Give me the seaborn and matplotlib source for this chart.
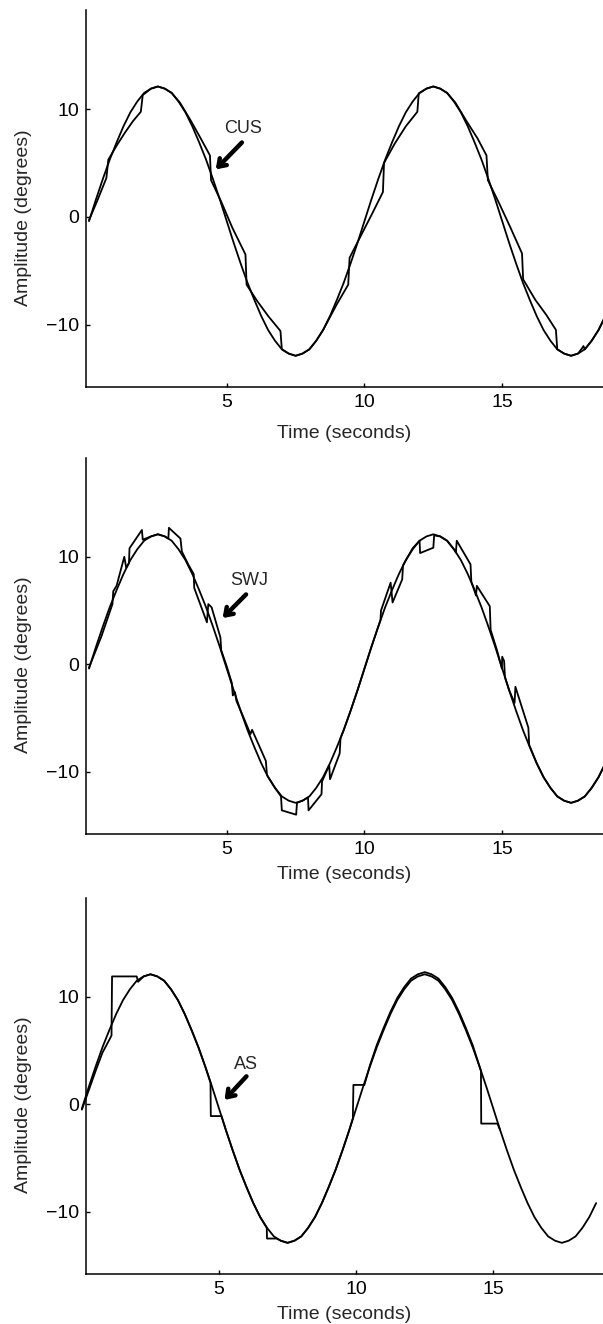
import numpy as np
import pandas as pd
import seaborn as sns
import matplotlib.pyplot as plt

# Target sine (degrees), sampled every 0.25 s from 0 to 18.75 s
target_v = [-0.4, 1.6, 3.5, 5.3, 6.9, 8.4, 9.7, 10.7, 11.5, 11.9,
            12.1, 11.9, 11.5, 10.7, 9.7, 8.4, 6.9, 5.3, 3.5, 1.6,
            -0.4, -2.4, -4.3, -6.1, -7.7, -9.2, -10.5, -11.5, -12.3, -12.7,
            -12.9, -12.7, -12.3, -11.5, -10.5, -9.2, -7.7, -6.1, -4.3, -2.4,
            -0.4, 1.6, 3.5, 5.3, 6.9, 8.4, 9.7, 10.7, 11.5, 11.9,
            12.1, 11.9, 11.5, 10.7, 9.7, 8.4, 6.9, 5.3, 3.5, 1.6,
            -0.4, -2.4, -4.3, -6.1, -7.7, -9.2, -10.5, -11.5, -12.3, -12.7,
            -12.9, -12.7, -12.3, -11.5, -10.5, -9.2]
target_t = np.arange(len(target_v)) * 0.25

# Eye trace with catch-up saccades (CUS)
cus_t = [0.0, 0.3, 0.63, 0.70, 1.0, 1.3, 1.6, 1.88, 1.95, 2.25, 2.5, 2.75, 3.0, 3.3,
         3.7, 4.05, 4.39, 4.43, 4.8, 5.2, 5.68, 5.72, 6.1, 6.5, 6.95, 7.0, 7.25, 7.5,
         7.75, 8.0, 8.25, 8.5, 8.75, 9.0, 9.41, 9.46, 9.9, 10.3, 10.67, 10.71, 11.1,
         11.5, 11.92, 11.97, 12.25, 12.5, 12.75, 13.0, 13.3, 13.7, 14.1, 14.43, 14.48,
         14.9, 15.3, 15.72, 15.76, 16.2, 16.6, 16.95, 17.0, 17.25, 17.5, 17.75, 17.9,
         17.95, 18.0, 18.25, 18.5, 18.75]
cus_v = [-0.3, 1.5, 3.6, 5.3, 6.6, 7.8, 8.9, 9.75, 11.3, 11.9, 12.1, 11.9, 11.5, 10.6,
         8.9, 7.3, 5.7, 3.4, 1.4, -1.0, -3.5, -6.3, -7.8, -9.2, -10.6, -12.3, -12.7, -12.9,
         -12.7, -12.3, -11.5, -10.5, -9.3, -8.1, -6.3, -3.8, -1.6, 0.4, 2.3, 5.0, 6.8,
         8.4, 9.75, 11.45, 11.9, 12.1, 11.9, 11.5, 10.6, 8.9, 7.3, 5.7, 3.4,
         1.2, -1.0, -3.4, -5.8, -7.7, -9.1, -10.5, -12.3, -12.7, -12.9, -12.7, -12.2,
         -12.0, -12.3, -11.5, -10.5, -9.2]

# Eye trace with square-wave jerks (SWJ)
swj_t = [0.0, 0.45, 0.85, 0.88, 1.0, 1.28, 1.35, 1.45, 1.47, 1.92, 1.95, 2.25, 2.5,
         2.75, 2.88, 2.9, 3.32, 3.37, 3.6, 3.8, 3.82, 4.28, 4.33, 4.45, 4.77, 4.8,
         5.0, 5.18, 5.22, 5.3, 5.35, 5.6, 5.86, 5.92, 6.42, 6.46, 6.75, 6.97, 7.0,
         7.52, 7.55, 7.75, 7.95, 7.97, 8.44, 8.46, 8.72, 8.75, 9.1, 9.13, 9.25, 9.5,
         9.75, 10.0, 10.25, 10.5, 10.58, 10.6, 10.95, 11.02, 11.37, 11.4, 11.75, 12.0,
         12.02, 12.5, 12.53, 12.75, 13.0, 13.25, 13.32, 13.35, 13.85, 13.88, 14.05,
         14.08, 14.55, 14.58, 14.8, 14.99, 15.0, 15.07, 15.1, 15.25, 15.45, 15.48,
         15.95, 15.98, 16.25, 16.5, 16.75, 17.0, 17.25, 17.5, 17.75, 18.0, 18.25,
         18.5, 18.75]
swj_v = [-0.3, 2.6, 5.6, 6.8, 7.3, 10.0, 9.0, 9.4, 10.8, 12.5, 11.6, 11.9, 12.1,
         11.9, 11.7, 12.7, 11.7, 10.5, 9.3, 8.4, 7.1, 3.9, 5.6, 5.3, 2.5, 1.3,
         -0.2, -1.7, -2.9, -2.6, -3.4, -4.9, -6.5, -6.1, -9.0, -10.3, -11.5, -12.3, -13.6,
         -14.0, -12.9, -12.7, -12.4, -13.6, -12.1, -10.9, -9.4, -10.7, -8.3, -6.9, -6.1, -4.3,
         -2.4, -0.4, 1.6, 3.5, 4.1, 5.0, 7.6, 5.75, 7.9, 9.2, 10.8, 11.5,
         10.35, 10.85, 12.0, 11.9, 11.5, 10.7, 10.4, 11.5, 9.3, 7.7, 6.4,
         7.3, 5.4, 3.2, 1.4, -0.4, 0.7, 0.3, -1.2, -2.4, -3.6, -2.1,
         -5.9, -7.5, -9.2, -10.5, -11.5, -12.3, -12.7, -12.9, -12.7, -12.3, -11.5,
         -10.5, -9.2]

# Eye trace with anticipatory saccades (AS)
as_t = [0.0, 0.25, 0.5, 0.75, 1.0, 1.08, 1.1, 2.0, 2.05, 2.25, 2.5, 2.75, 3.0, 3.25,
        3.5, 3.75, 4.0, 4.25, 4.5, 4.69, 4.7, 5.09, 5.25, 5.5, 5.75, 6.0, 6.25, 6.5,
        6.74, 6.75, 7.1, 7.25, 7.5, 7.75, 8.0, 8.25, 8.5, 8.75, 9.0, 9.25, 9.5, 9.75,
        9.88, 9.9, 10.3, 10.5, 10.75, 11.0, 11.25, 11.5, 11.75, 12.0, 12.25, 12.5,
        12.75, 13.0, 13.25, 13.5, 13.75, 14.0, 14.25, 14.55, 14.56, 15.15, 15.25]
as_v = [-0.5, 1.3, 3.1, 4.8, 6.0, 6.4, 11.9, 11.9, 11.4, 11.9, 12.1, 11.9, 11.5, 10.7,
        9.7, 8.4, 6.9, 5.3, 3.5, 2.0, -1.1, -1.1, -2.4, -4.3, -6.1, -7.7, -9.2, -10.5,
        -11.5, -12.5, -12.5, -12.7, -12.9, -12.7, -12.3, -11.5, -10.5, -9.2, -7.7, -6.1, -4.3, -2.4,
        -1.3, 1.8, 1.8, 3.6, 5.5, 7.1, 8.6, 9.9, 10.9, 11.7, 12.1, 12.3,
        12.1, 11.7, 10.9, 9.9, 8.6, 7.1, 5.5, 3.1, -1.8, -1.8, -2.4]

panels = [
    dict(eye_t=cus_t, eye_v=cus_v, label="CUS", text=(5.6, 8.2), tail=(5.55, 6.9),
         tip=(4.6, 4.4), xlim=(-0.11, 18.66), top=10, bottom=387, lpad=10),
    dict(eye_t=swj_t, eye_v=swj_v, label="SWJ", text=(5.8, 7.8), tail=(5.7, 6.5),
         tip=(4.85, 4.3), xlim=(-0.11, 18.66), top=458, bottom=834, lpad=5.5),
    dict(eye_t=as_t, eye_v=as_v, label="AS", text=(6.0, 3.7), tail=(6.0, 2.6),
         tip=(5.2, 0.4), xlim=(0.15, 19.0), top=898, bottom=1274, lpad=5.5),
]

sns.set_style("ticks")
plt.rcParams["font.family"] = ["Liberation Sans", "DejaVu Sans"]
plt.rcParams["axes.linewidth"] = 1.1

W, H = 603, 1324
fig = plt.figure(figsize=(W / 100, H / 100), dpi=100)

for p in panels:
    ax = fig.add_axes([86 / W, 1 - p["bottom"] / H, (W - 86) / W, (p["bottom"] - p["top"]) / H])
    sns.lineplot(x=target_t, y=target_v, ax=ax, color="black", lw=1.3,
                 estimator=None, sort=False, clip_on=False)
    sns.lineplot(x=p["eye_t"], y=p["eye_v"], ax=ax, color="black", lw=1.3,
                 estimator=None, sort=False, clip_on=False)
    ax.set_xlim(*p["xlim"])
    ax.set_ylim(-15.8, 19.2)
    ax.set_xticks([5, 10, 15])
    ax.set_yticks([-10, 0, 10])
    ax.tick_params(direction="in", length=3, width=1, labelsize=14, pad=5, colors="black")
    ax.set_xlabel("Time (seconds)", fontsize=14, labelpad=p["lpad"])
    ax.set_ylabel("Amplitude (degrees)", fontsize=14)
    ax.yaxis.set_label_coords(-0.104, 0.45)
    sns.despine(ax=ax)
    for s in ax.spines.values():
        s.set_color("black")
    ax.text(*p["text"], p["label"], fontsize=13, ha="center", va="center")
    ax.annotate("", xy=p["tip"], xytext=p["tail"],
                arrowprops=dict(arrowstyle="->,head_length=0.5,head_width=0.35",
                                lw=3.2, color="black", shrinkA=0, shrinkB=0))

plt.savefig("out.png", dpi=100)
